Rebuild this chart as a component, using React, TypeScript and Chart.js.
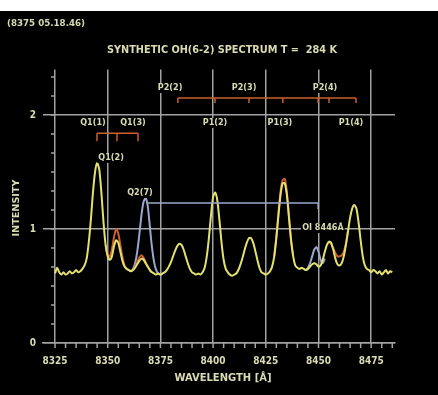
import React, { useEffect, useRef } from "react";
import { Chart, registerables } from "chart.js";

Chart.register(...registerables);

// ---------- DATA ----------
const wavelengths = [
  8325, 8326, 8327, 8328, 8329, 8330, 8331, 8332, 8333, 8334,
  8335, 8336, 8337, 8338, 8339, 8340, 8341, 8342, 8343, 8344,
  8345, 8346, 8347, 8348, 8349, 8350, 8351, 8352, 8353, 8354,
  8355, 8356, 8357, 8358, 8359, 8360, 8361, 8362, 8363, 8364,
  8365, 8366, 8367, 8368, 8369, 8370, 8371, 8372, 8373, 8374,
  8375, 8376, 8377, 8378, 8379, 8380, 8381, 8382, 8383, 8384,
  8385, 8386, 8387, 8388, 8389, 8390, 8391, 8392, 8393, 8394,
  8395, 8396, 8397, 8398, 8399, 8400, 8401, 8402, 8403, 8404,
  8405, 8406, 8407, 8408, 8409, 8410, 8411, 8412, 8413, 8414,
  8415, 8416, 8417, 8418, 8419, 8420, 8421, 8422, 8423, 8424,
  8425, 8426, 8427, 8428, 8429, 8430, 8431, 8432, 8433, 8434,
  8435, 8436, 8437, 8438, 8439, 8440, 8441, 8442, 8443, 8444,
  8445, 8446, 8447, 8448, 8449, 8450, 8451, 8452, 8453, 8454,
  8455, 8456, 8457, 8458, 8459, 8460, 8461, 8462, 8463, 8464,
  8465, 8466, 8467, 8468, 8469, 8470, 8471, 8472, 8473, 8474,
  8475, 8476, 8477, 8478, 8479, 8480, 8481, 8482, 8483, 8484, 8485,
];

const yellowValues = [
  0.61, 0.66, 0.62, 0.60, 0.62, 0.60, 0.61, 0.63, 0.61, 0.62,
  0.64, 0.62, 0.63, 0.65, 0.68, 0.74, 0.88, 1.08, 1.32, 1.50,
  1.58, 1.52, 1.32, 1.06, 0.86, 0.76, 0.73, 0.76, 0.85, 0.90,
  0.88, 0.80, 0.72, 0.67, 0.65, 0.64, 0.63, 0.64, 0.66, 0.69,
  0.72, 0.74, 0.73, 0.70, 0.67, 0.64, 0.62, 0.61, 0.60, 0.61,
  0.60, 0.61, 0.62, 0.64, 0.67, 0.71, 0.76, 0.81, 0.85, 0.87,
  0.86, 0.82, 0.76, 0.70, 0.65, 0.62, 0.61, 0.60, 0.61, 0.60,
  0.62, 0.66, 0.76, 0.92, 1.12, 1.28, 1.32, 1.25, 1.08, 0.88,
  0.73, 0.65, 0.62, 0.60, 0.59, 0.60, 0.61, 0.64, 0.69, 0.75,
  0.82, 0.88, 0.92, 0.92, 0.88, 0.81, 0.73, 0.66, 0.62, 0.61,
  0.60, 0.61, 0.63, 0.67, 0.76, 0.92, 1.12, 1.30, 1.40, 1.40,
  1.30, 1.10, 0.90, 0.76, 0.68, 0.66, 0.65, 0.66, 0.65, 0.64,
  0.65, 0.67, 0.69, 0.70, 0.69, 0.67, 0.68, 0.73, 0.80, 0.86,
  0.89, 0.88, 0.82, 0.74, 0.69, 0.68, 0.70, 0.76, 0.86, 0.98,
  1.10, 1.18, 1.21, 1.18, 1.06, 0.90, 0.76, 0.68, 0.65, 0.64,
  0.62, 0.64, 0.63, 0.61, 0.63, 0.60, 0.62, 0.64, 0.61, 0.63, 0.62,
];

// orange model (only where it departs from the yellow one; null = gap)
const orangeWavelengths = [
  8349, 8350, 8351, 8352, 8353, 8354, 8355, 8356, 8357, 8358, 8359,
  8360,
  8361, 8362, 8363, 8364, 8365, 8366, 8367, 8368, 8369, 8370, 8371,
  8400,
  8429, 8430, 8431, 8432, 8433, 8434, 8435, 8436, 8437, 8438,
  8445,
  8455, 8456, 8457, 8458, 8459, 8460, 8461, 8462, 8463, 8464,
];
const orangeValues = [
  0.86, 0.77, 0.76, 0.82, 0.93, 1.00, 0.96, 0.86, 0.75, 0.68, 0.65,
  null,
  0.63, 0.64, 0.67, 0.71, 0.75, 0.77, 0.75, 0.71, 0.67, 0.64, 0.62,
  null,
  0.76, 0.93, 1.14, 1.33, 1.43, 1.44, 1.32, 1.11, 0.90, 0.76,
  null,
  0.89, 0.87, 0.83, 0.79, 0.76, 0.76, 0.77, 0.80, 0.87, 0.98,
];

// blue-grey model (only where it departs from the yellow one; null = gap)
const blueWavelengths = [
  8360, 8361, 8362, 8363, 8364, 8365, 8366, 8367, 8368, 8369,
  8370, 8371, 8372, 8373, 8374, 8375, 8376,
  8400,
  8443, 8444, 8445, 8446, 8447, 8448, 8449, 8450, 8451, 8452, 8453,
];
const blueValues = [
  0.64, 0.63, 0.65, 0.70, 0.80, 0.95, 1.12, 1.24, 1.27, 1.20,
  1.02, 0.84, 0.71, 0.64, 0.61, 0.60, 0.61,
  null,
  0.65, 0.64, 0.66, 0.70, 0.76, 0.82, 0.84, 0.80, 0.73, 0.70, 0.74,
];

const xTickValues = [8325, 8350, 8375, 8400, 8425, 8450, 8475];
const yTickValues = [0, 1, 2];

const stampText = "(8375 05.18.46)";
const titleText = "SYNTHETIC OH(6-2) SPECTRUM T =  284 K";
const xTitleText = "WAVELENGTH [Å]";
const yTitleText = "INTENSITY";

// line identification labels
const lineLabels = ["P2(2)", "P2(3)", "P2(4)", "P1(2)", "P1(3)", "P1(4)", "Q1(1)", "Q1(3)", "Q1(2)", "Q2(7)", "OI 8446Å"];
const lineLabelWavelengths = [8379.6, 8414.7, 8453.1, 8400.9, 8431.7, 8465.4, 8343.0, 8362.0, 8351.6, 8365.3, 8452.1];
const lineLabelLevels = [2.237, 2.237, 2.237, 1.93, 1.93, 1.93, 1.93, 1.93, 1.623, 1.316, 1.009];

// brackets
const p2BracketTicks = [8383.3, 8400.9, 8417.0, 8433.1, 8449.8, 8455.0, 8467.8];
const p2BracketLevel = 2.15;
const q1BracketTicks = [8344.9, 8354.4, 8364.4];
const q1BracketLevel = 1.84;
const oiLineEnds = [8369.1, 8449.8];
const oiLineLevel = 1.228;

// ---------- STYLE ----------
const TEXT = "#d9dbb2";
const GRID = "#a2a2a2";
const YELLOW = "#e3e16f";
const ORANGE = "#cc5f2e";
const BLUE = "#9aa6cc";
const FONT_FAMILY = '"Liberation Sans Narrow", "DejaVu Sans Condensed", "Liberation Sans", Arial, sans-serif';

function fitText(ctx: CanvasRenderingContext2D, text: string, cx: number, cy: number, width: number, size: number, rotate = false) {
  ctx.save();
  ctx.font = `bold ${size}px ${FONT_FAMILY}`;
  const m = ctx.measureText(text).width;
  ctx.translate(cx, cy);
  if (rotate) ctx.rotate(-Math.PI / 2);
  ctx.scale(width / m, 1);
  ctx.textAlign = "center";
  ctx.textBaseline = "middle";
  ctx.fillStyle = TEXT;
  ctx.fillText(text, 0, 0);
  ctx.restore();
}

const decorPlugin = {
  id: "decor",
  beforeDatasetsDraw(chart: any) {
    const { ctx, scales } = chart;
    const x = scales.x, y = scales.y;
    ctx.save();
    ctx.strokeStyle = GRID;
    ctx.lineWidth = 1.5;
    const y0 = y.getPixelForValue(0);
    for (let w = 8325; w <= 8485; w += 5) {
      const px = x.getPixelForValue(w);
      ctx.beginPath(); ctx.moveTo(px, y0); ctx.lineTo(px, y0 + 5); ctx.stroke();
    }
    const ax = x.getPixelForValue(8325);
    for (let k = 1; k <= 14; k++) {
      const py = y.getPixelForValue(k / 6);
      ctx.beginPath(); ctx.moveTo(ax - 4, py); ctx.lineTo(ax, py); ctx.stroke();
    }
    ctx.restore();
  },
  afterDatasetsDraw(chart: any) {
    const { ctx, scales } = chart;
    const x = scales.x, y = scales.y;
    ctx.save();
    // P2 bracket
    ctx.strokeStyle = ORANGE;
    ctx.lineWidth = 1.5;
    let py = y.getPixelForValue(p2BracketLevel);
    ctx.beginPath();
    ctx.moveTo(x.getPixelForValue(p2BracketTicks[0]), py);
    ctx.lineTo(x.getPixelForValue(p2BracketTicks[p2BracketTicks.length - 1]), py);
    ctx.stroke();
    p2BracketTicks.forEach((w) => {
      const px = x.getPixelForValue(w);
      ctx.beginPath(); ctx.moveTo(px, py); ctx.lineTo(px, py + 5); ctx.stroke();
    });
    // Q1 bracket
    py = y.getPixelForValue(q1BracketLevel);
    ctx.beginPath();
    ctx.moveTo(x.getPixelForValue(q1BracketTicks[0]), py);
    ctx.lineTo(x.getPixelForValue(q1BracketTicks[q1BracketTicks.length - 1]), py);
    ctx.stroke();
    q1BracketTicks.forEach((w) => {
      const px = x.getPixelForValue(w);
      ctx.beginPath(); ctx.moveTo(px, py); ctx.lineTo(px, py + 8); ctx.stroke();
    });
    // blue connecting line
    ctx.strokeStyle = BLUE;
    py = y.getPixelForValue(oiLineLevel);
    ctx.beginPath();
    ctx.moveTo(x.getPixelForValue(oiLineEnds[0]), py);
    ctx.lineTo(x.getPixelForValue(oiLineEnds[1]), py);
    ctx.lineTo(x.getPixelForValue(oiLineEnds[1]), py + 6);
    ctx.stroke();
    // labels
    ctx.font = `bold 9px ${FONT_FAMILY}`;
    ctx.textAlign = "center";
    ctx.textBaseline = "middle";
    lineLabels.forEach((t, i) => {
      const cx = x.getPixelForValue(lineLabelWavelengths[i]);
      const cy = y.getPixelForValue(lineLabelLevels[i]);
      const w = ctx.measureText(t).width;
      ctx.fillStyle = "#000";
      ctx.fillRect(cx - w / 2 - 1, cy - 5, w + 2, 10);
      ctx.fillStyle = TEXT;
      ctx.fillText(t, cx, cy);
    });
    ctx.restore();
  },
  afterDraw(chart: any) {
    const ctx = chart.ctx;
    fitText(ctx, stampText, 46, 13, 78, 9);
    fitText(ctx, titleText, 222, 39, 230, 10);
    fitText(ctx, xTitleText, 223, 367, 97, 10);
    fitText(ctx, yTitleText, 17, 197, 57, 9, true);
  },
};

export default function App() {
  const ref = useRef<HTMLCanvasElement>(null);
  useEffect(() => {
    const canvas = ref.current!;
    const toPts = (xs: number[], ys: (number | null)[]) => xs.map((w, i) => ({ x: w, y: ys[i] }));
    const chart = new Chart(canvas, {
      type: "line",
      data: {
        datasets: [
          {
            data: toPts(wavelengths, yellowValues),
            borderColor: YELLOW, borderWidth: 2, pointRadius: 0, tension: 0.25, order: 0,
          },
          {
            data: toPts(orangeWavelengths, orangeValues),
            borderColor: ORANGE, borderWidth: 2, pointRadius: 0, tension: 0.25, order: 1,
          },
          {
            data: toPts(blueWavelengths, blueValues),
            borderColor: BLUE, borderWidth: 2, pointRadius: 0, tension: 0.25, order: 2,
          },
        ] as any,
      },
      options: {
        responsive: false,
        animation: false,
        devicePixelRatio: 1,
        parsing: true,
        layout: { padding: { left: 0, right: 43, top: 58.4, bottom: 0 } },
        plugins: { legend: { display: false }, tooltip: { enabled: false }, title: { display: false } },
        scales: {
          x: {
            type: "linear",
            min: 8319.3,
            max: 8486.3,
            afterBuildTicks: (s: any) => { s.ticks = xTickValues.map((v) => ({ value: v })); },
            afterFit: (s: any) => { s.height = 52; },
            grid: { color: GRID, lineWidth: 1.5, drawTicks: false },
            border: { color: GRID, width: 1.5 },
            ticks: {
              color: TEXT, padding: 12, maxRotation: 0, autoSkip: false,
              font: { family: FONT_FAMILY, size: 10, weight: "bold" },
              callback: (v: any) => String(v),
            },
          },
          y: {
            min: 0,
            max: 2.4,
            afterBuildTicks: (s: any) => { s.ticks = yTickValues.map((v) => ({ value: v })); },
            afterFit: (s: any) => { s.width = 43; },
            grid: { color: GRID, lineWidth: 1.5, drawTicks: false },
            border: { display: false },
            ticks: {
              color: TEXT, padding: 7,
              font: { family: FONT_FAMILY, size: 10, weight: "bold" },
              callback: (v: any) => String(v),
            },
          },
        },
      } as any,
      plugins: [decorPlugin],
    });
    return () => chart.destroy();
  }, []);
  return (
    <div style={{ position: "absolute", left: 0, top: 0, width: 438, height: 395, background: "#fff" }}>
      <canvas
        ref={ref}
        width={438}
        height={384}
        style={{ position: "absolute", left: 0, top: 11, width: 438, height: 384, background: "#000", display: "block" }}
      />
    </div>
  );
}
